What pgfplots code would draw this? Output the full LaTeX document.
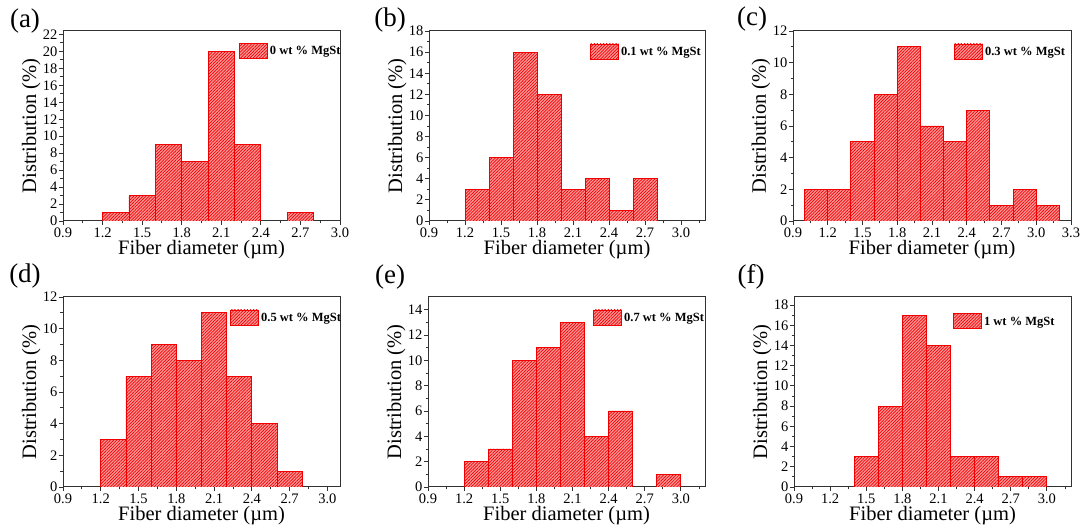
\documentclass[border=0pt]{standalone}
\usepackage{fontspec}
\setmainfont{Liberation Serif}
\usepackage{pgfplots}
\pgfplotsset{compat=1.18}
\usetikzlibrary{patterns.meta}

\definecolor{barfill}{RGB}{255,150,150}
\definecolor{barline}{RGB}{240,0,0}
\definecolor{axgray}{RGB}{50,50,50}

\pgfplotsset{
  hist/.style={
    scale only axis, width=277pt, height=190pt,
    anchor=south west,
    axis line style={axgray, line width=1pt},
    axis x line*=bottom, axis y line*=left,
    tick align=outside, tick style={axgray, line width=0.9pt},
    major tick length=4pt, minor tick length=2.5pt,
    minor x tick num=1, minor y tick num=1,
    xmin=0.9, enlargelimits=false, ymin=0,
    xtick={0.9,1.2,1.5,1.8,2.1,2.4,2.7,3.0,3.3},
    /pgf/number format/assume math mode=true,
    tick label style={font=\fontsize{14.5}{14.5}\selectfont, inner sep=0.5pt},
    xticklabel style={yshift=-2pt, /pgf/number format/.cd, fixed, fixed zerofill, precision=1},
    yticklabel style={xshift=-1pt},
    xlabel={Fiber diameter (µm)}, ylabel={Distribution (\%)},
    label style={font=\fontsize{20.5}{20.5}\selectfont},
    x label style={at={(axis description cs:0.5,-0.15)}, anchor=center},
    y label style={at={(axis description cs:-0.115,0.5)}, anchor=center},
    legend style={draw=none, fill=none, inner sep=0pt, anchor=north west,
      font=\fontsize{12.5}{12.5}\selectfont\bfseries},
    legend image code/.code={\draw[##1] (0pt,-7pt) rectangle (28pt,8pt);},
    % the closing axis box is drawn by hand: top and right lines without ticks
    after end axis/.code={
      \draw[axgray, line width=1pt] (rel axis cs:0,1) -- (rel axis cs:1,1) -- (rel axis cs:1,0);
    },
  },
  bars/.style={
    ybar, bar width=0.2, bar shift=0pt,
    draw=barline, line width=0.9pt, fill=barfill,
    postaction={pattern={Lines[angle=45,distance=2.2pt,line width=0.7pt]}, pattern color=barline},
  },
}

\begin{document}
\begin{tikzpicture}
\useasboundingbox (0pt,0pt) rectangle (1087pt,532pt);

% (a)
\begin{axis}[hist, at={(63pt,311pt)}, xmax=3.0, ymax=22.4,
  ytick={0,2,...,22}, legend style={at={(0.635,0.94)}}]
  \addplot[bars] coordinates {(1.3,1) (1.5,3) (1.7,9) (1.9,7) (2.1,20) (2.3,9) (2.7,1)};
  \addlegendentry{0 wt \% MgSt}
\end{axis}

% (b)
\begin{axis}[hist, at={(429pt,311pt)}, width=276pt, xmax=3.2, ymax=18,
  ytick={0,2,...,18}, legend style={at={(0.583,0.935)}}]
  \addplot[bars] coordinates {(1.3,3) (1.5,6) (1.7,16) (1.9,12) (2.1,3) (2.3,4) (2.5,1) (2.7,4)};
  \addlegendentry{0.1 wt \% MgSt}
\end{axis}

% (c)
\begin{axis}[hist, at={(793pt,311pt)}, width=278pt, xmax=3.3, ymax=12,
  ytick={0,2,...,12}, legend style={at={(0.579,0.935)}}]
  \addplot[bars] coordinates {(1.1,2) (1.3,2) (1.5,5) (1.7,8) (1.9,11) (2.1,6) (2.3,5) (2.5,7) (2.7,1) (2.9,2) (3.1,1)};
  \addlegendentry{0.3 wt \% MgSt}
\end{axis}

% (d)
\begin{axis}[hist, at={(63pt,45pt)}, xmax=3.1, ymax=12,
  ytick={0,2,...,12}, legend style={at={(0.603,0.935)}}]
  \addplot[bars] coordinates {(1.3,3) (1.5,7) (1.7,9) (1.9,8) (2.1,11) (2.3,7) (2.5,4) (2.7,1)};
  \addlegendentry{0.5 wt \% MgSt}
\end{axis}

% (e)
\begin{axis}[hist, at={(428pt,45pt)}, xmax=3.2, ymax=15,
  ytick={0,2,...,14}, legend style={at={(0.596,0.935)}}]
  \addplot[bars] coordinates {(1.3,2) (1.5,3) (1.7,10) (1.9,11) (2.1,13) (2.3,4) (2.5,6) (2.9,1)};
  \addlegendentry{0.7 wt \% MgSt}
\end{axis}

% (f)
\begin{axis}[hist, at={(794pt,45pt)}, xmax=3.2, ymax=18.8,
  ytick={0,2,...,18}, legend style={at={(0.574,0.915)}}]
  \addplot[bars] coordinates {(1.5,3) (1.7,8) (1.9,17) (2.1,14) (2.3,3) (2.5,3) (2.7,1) (2.9,1)};
  \addlegendentry{1 wt \% MgSt}
\end{axis}

% panel letters
\begin{scope}[every node/.style={font=\fontsize{27}{27}\selectfont, inner sep=0pt}]
  \node at (25pt,511pt) {(a)};
  \node at (390pt,512pt) {(b)};
  \node at (752pt,513pt) {(c)};
  \node at (25pt,256pt) {(d)};
  \node at (390pt,255pt) {(e)};
  \node at (751pt,255pt) {(f)};
\end{scope}
\end{tikzpicture}
\end{document}
